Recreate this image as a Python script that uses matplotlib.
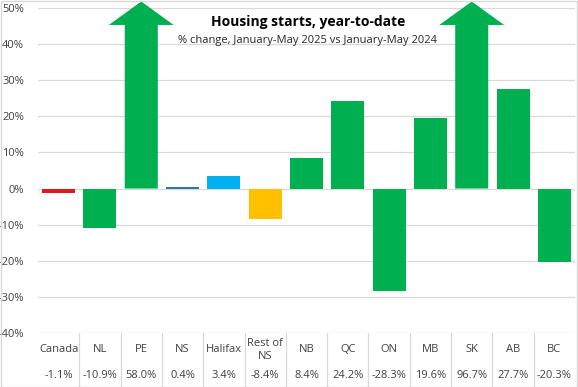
import matplotlib
matplotlib.use("Agg")
import matplotlib.pyplot as plt
from matplotlib.patches import FancyArrow, Rectangle
from matplotlib.lines import Line2D

regions = ["Canada", "NL", "PE", "NS", "Halifax", "Rest of\nNS", "NB", "QC", "ON", "MB", "SK", "AB", "BC"]
values = [-1.1, -10.9, 58.0, 0.4, 3.4, -8.4, 8.4, 24.2, -28.3, 19.6, 96.7, 27.7, -20.3]
value_labels = ["-1.1%", "-10.9%", "58.0%", "0.4%", "3.4%", "-8.4%", "8.4%", "24.2%", "-28.3%", "19.6%", "96.7%", "27.7%", "-20.3%"]
colors = ["#E0181F", "#00B050", "#00B050", "#2E75B6", "#00B0F0", "#FFC000", "#00B050",
          "#00B050", "#00B050", "#00B050", "#00B050", "#00B050", "#00B050"]
yticks = [-40, -30, -20, -10, 0, 10, 20, 30, 40, 50]
title = "Housing starts, year-to-date"
subtitle = "% change, January-May 2025 vs January-May 2024"

plt.rcParams['font.family'] = ['Open Sans', 'DejaVu Sans']

W, H = 578, 387
fig = plt.figure(figsize=(W / 100, H / 100), dpi=100)
left, right, top, bottom = 38, 575, 8, 333
ax = fig.add_axes([left / W, 1 - bottom / H, (right - left) / W, (bottom - top) / H])
ymin, ymax = -40, 50
ax.set_ylim(ymin, ymax)
ax.set_xlim(-0.5, len(regions) - 0.5)
ax.set_yticks(yticks)
ax.set_yticklabels([f"{t}%" for t in yticks], fontsize=8, color="#404040")
ax.tick_params(axis="y", length=0, pad=10)
ax.set_xticks([])
for s in ax.spines.values():
    s.set_visible(False)
ax.grid(axis="y", color="#D9D9D9", linewidth=0.9)
ax.set_axisbelow(True)

bw = 0.8
cap = ymax + 1.8
for i, (v, c) in enumerate(zip(values, colors)):
    if v > ymax:
        arr = FancyArrow(i, 0, 0, cap, width=bw, head_width=1.57, head_length=6.5,
                         length_includes_head=True, color=c, clip_on=False, zorder=3,
                         linewidth=0)
        ax.add_patch(arr)
    else:
        ax.bar(i, v, width=bw, color=c, zorder=3)

# Title
fig.text(308 / W, 1 - 22 / H, title, ha="center", va="center", fontsize=10, fontweight="bold", color="black")
fig.text(308 / W, 1 - 40 / H, subtitle, ha="center", va="center", fontsize=8, color="#262626")

# Table below
for i, (r, vl) in enumerate(zip(regions, value_labels)):
    fig_y1 = 1 - 350 / H
    fig_y2 = 1 - 376 / H
    xf = (left + (i + 0.5) * (right - left) / len(regions)) / W
    fig.text(xf, fig_y1, r, ha="center", va="center", fontsize=8, color="#404040", linespacing=1.15)
    fig.text(xf, fig_y2, vl, ha="center", va="center", fontsize=8, color="#404040")
for i in range(1, len(regions)):
    xf = (left + i * (right - left) / len(regions)) / W
    fig.add_artist(Line2D([xf, xf], [1 - 333 / H, 0], color="#D9D9D9", linewidth=0.9))

# Figure border
fig.add_artist(Rectangle((0.5 / W, 0.5 / H), 1 - 1.5 / W, 1 - 1.5 / H, transform=fig.transFigure,
                         fill=False, edgecolor="#D9D9D9", linewidth=1))

fig.savefig("out.png", dpi=100)
